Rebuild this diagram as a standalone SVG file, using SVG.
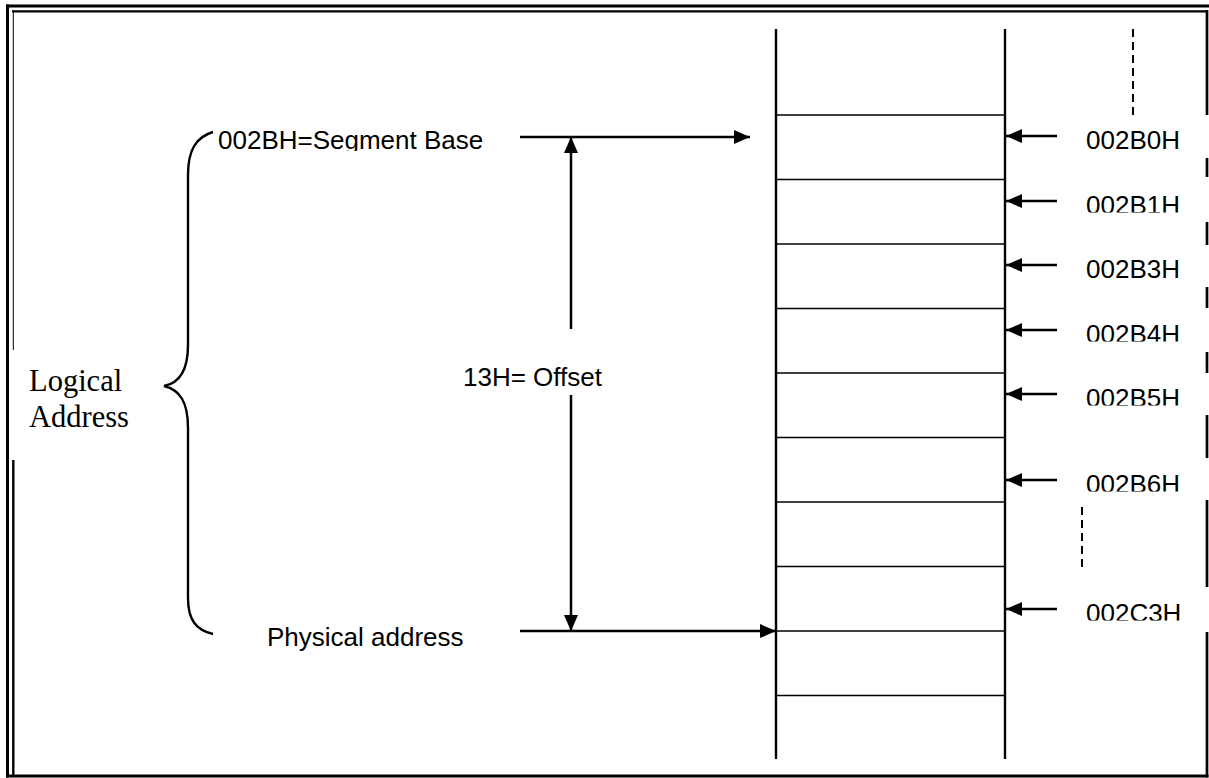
<svg xmlns="http://www.w3.org/2000/svg" width="1209" height="778" viewBox="0 0 1209 778">
<style>
.t{font-family:"Liberation Sans",Arial,sans-serif;font-size:26px;fill:#000}
.s{font-family:"Liberation Serif","Times New Roman",serif;font-size:30.5px;fill:#000}
.ln{stroke:#000;stroke-width:2.4;fill:none}
.cell{stroke:#000;stroke-width:1.6;fill:none}
.ar{stroke:#000;stroke-width:2.5;fill:none}
.bd{stroke:#000;fill:none}
.dash{stroke:#000;stroke-width:2;stroke-dasharray:8 5;fill:none}
</style>
<defs>
<marker id="ah" markerUnits="userSpaceOnUse" markerWidth="18" markerHeight="16" refX="16" refY="7" orient="auto">
<path d="M0,0 L16,7 L0,14 Z" fill="#000"/>
</marker>
<clipPath id="c1"><rect x="1080" y="180" width="110" height="32.5"/></clipPath>
<clipPath id="c4"><rect x="1080" y="310" width="110" height="31.5"/></clipPath>
<clipPath id="c5"><rect x="1080" y="375" width="110" height="30.5"/></clipPath>
<clipPath id="c6"><rect x="1080" y="460" width="110" height="31.5"/></clipPath>
<clipPath id="c7"><rect x="1080" y="590" width="110" height="30.5"/></clipPath>
<clipPath id="cb"><rect x="210" y="115" width="290" height="36"/></clipPath>
</defs>
<rect width="1209" height="778" fill="#fff"/>
<g id="border">
<line class="bd" x1="6" y1="6" x2="1209" y2="6" stroke-width="3"/>
<line class="bd" x1="12" y1="11.3" x2="1208" y2="11.3" stroke-width="2.3"/>
<line class="bd" x1="7.5" y1="4.5" x2="7.5" y2="777.5" stroke-width="3"/>
<line class="bd" x1="13.3" y1="10" x2="13.3" y2="350"/>
<line class="bd" x1="13.3" y1="460" x2="13.3" y2="777" stroke-width="2.4"/>
<line class="bd" x1="6" y1="776" x2="1208.5" y2="776" stroke-width="3"/>
<g stroke-width="2.7">
<line class="bd" x1="1207" y1="10" x2="1207" y2="115"/>
<line class="bd" x1="1207" y1="158" x2="1207" y2="177"/>
<line class="bd" x1="1207" y1="222" x2="1207" y2="245"/>
<line class="bd" x1="1207" y1="287" x2="1207" y2="308"/>
<line class="bd" x1="1207" y1="352" x2="1207" y2="373"/>
<line class="bd" x1="1207" y1="415" x2="1207" y2="458"/>
<line class="bd" x1="1207" y1="500" x2="1207" y2="587"/>
<line class="bd" x1="1207" y1="632" x2="1207" y2="777.5"/>
</g>
</g>
<g id="memory">
<line class="ln" x1="776" y1="29" x2="776" y2="759"/>
<line class="ln" x1="1005" y1="29" x2="1005" y2="759"/>
<line class="cell" x1="776" y1="115" x2="1005" y2="115"/>
<line class="cell" x1="776" y1="179.5" x2="1005" y2="179.5"/>
<line class="cell" x1="776" y1="244" x2="1005" y2="244"/>
<line class="cell" x1="776" y1="308.5" x2="1005" y2="308.5"/>
<line class="cell" x1="776" y1="373" x2="1005" y2="373"/>
<line class="cell" x1="776" y1="437.5" x2="1005" y2="437.5"/>
<line class="cell" x1="776" y1="502" x2="1005" y2="502"/>
<line class="cell" x1="776" y1="566.5" x2="1005" y2="566.5"/>
<line class="cell" x1="776" y1="631" x2="1005" y2="631"/>
<line class="cell" x1="776" y1="695.5" x2="1005" y2="695.5"/>
</g>
<g id="dots">
<line class="dash" x1="1133" y1="29" x2="1133" y2="115"/>
<line class="dash" x1="1082" y1="507" x2="1082" y2="572"/>
</g>
<g id="logical-address">
<path class="ln" d="M213,132 C196,137 188,150 188,175 L188,345 C188,370 180,383 164,386 C180,390 188,402 188,428 L188,598 C188,620 196,630 213,634" stroke-width="2.2"/>
<text class="s" x="29" y="391">Logical</text>
<text class="s" x="29" y="427">Address</text>
</g>
<g id="segment-base">
<text class="t" x="218" y="149" clip-path="url(#cb)">002BH=Segment Base</text>
</g>
<g id="offset">
<text class="t" x="463" y="386">13H= Offset</text>
</g>
<g id="physical-address">
<text class="t" x="267" y="646">Physical address</text>
</g>
<g id="labels">
<text class="t" x="1086" y="149">002B0H</text>
<text class="t" x="1086" y="214" clip-path="url(#c1)">002B1H</text>
<text class="t" x="1086" y="278">002B3H</text>
<text class="t" x="1086" y="343" clip-path="url(#c4)">002B4H</text>
<text class="t" x="1086" y="407" clip-path="url(#c5)">002B5H</text>
<text class="t" x="1086" y="493" clip-path="url(#c6)">002B6H</text>
<text class="t" x="1086" y="622" clip-path="url(#c7)">002C3H</text>
</g>
<g id="connectors">
<line class="ar" x1="520" y1="137" x2="750" y2="137" marker-end="url(#ah)"/>
<line class="ar" x1="571" y1="329" x2="571" y2="137" marker-end="url(#ah)"/>
<line class="ar" x1="571" y1="395" x2="571" y2="631" marker-end="url(#ah)"/>
<line class="ar" x1="520" y1="631" x2="776" y2="631" marker-end="url(#ah)"/>
<line class="ar" x1="1057" y1="136" x2="1006" y2="136" marker-end="url(#ah)"/>
<line class="ar" x1="1057" y1="201" x2="1006" y2="201" marker-end="url(#ah)"/>
<line class="ar" x1="1057" y1="265" x2="1006" y2="265" marker-end="url(#ah)"/>
<line class="ar" x1="1057" y1="330" x2="1006" y2="330" marker-end="url(#ah)"/>
<line class="ar" x1="1057" y1="394" x2="1006" y2="394" marker-end="url(#ah)"/>
<line class="ar" x1="1057" y1="480" x2="1006" y2="480" marker-end="url(#ah)"/>
<line class="ar" x1="1057" y1="609" x2="1006" y2="609" marker-end="url(#ah)"/>
</g>
</svg>
